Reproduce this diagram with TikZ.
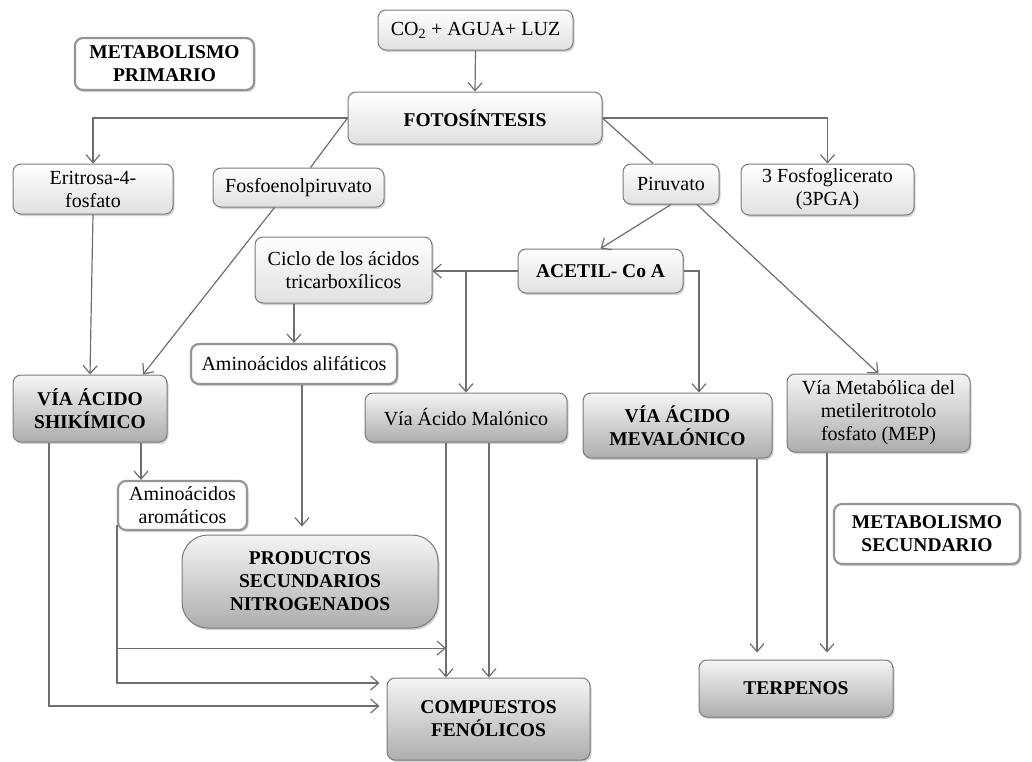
\documentclass[tikz,border=0pt]{standalone}
\usepackage{fontspec}
\setmainfont{Liberation Serif}
\usetikzlibrary{arrows.meta,shadows}
\definecolor{edge}{HTML}{7A7A7A}
\definecolor{wire}{HTML}{6E6E6E}
\tikzset{
    box/.style={draw=edge, line width=1pt, rounded corners=8pt, inner sep=0pt, align=center,
        font=\fontsize{20}{23}\selectfont, drop shadow={shadow xshift=1.5pt, shadow yshift=-2pt, opacity=0.35}},
    bold/.style={font=\fontsize{19.5}{23}\selectfont\bfseries},
    lightbox/.style={box, top color=white, bottom color=black!12},
    darkbox/.style={box, top color=black!4, bottom color=black!32},
    whitebox/.style={box, fill=white, draw=edge!80, line width=2.2pt, drop shadow={opacity=0}},
    arr/.style={draw=wire, line width=1.2pt, -{Straight Barb[length=8pt,width=14pt,line width=1.2pt]}},
    ln/.style={draw=wire, line width=1.2pt}
}
\begin{document}
\begin{tikzpicture}[x=1pt, y=-1pt]
    \useasboundingbox (0,0) rectangle (1032,761);
    % nodes
    \node[lightbox, minimum width=195, minimum height=40] (co2) at (475.5,30) {CO\textsubscript{2} + AGUA+ LUZ};
    \node[whitebox, bold, minimum width=179, minimum height=52] (metp) at (164.5,64) {METABOLISMO\\PRIMARIO};
    \node[lightbox, bold, minimum width=254, minimum height=52] (foto) at (475,118) {FOTOSÍNTESIS};
    \node[lightbox, minimum width=160, minimum height=50] (erit) at (93,189) {Eritrosa-4-\\fosfato};
    \node[lightbox, minimum width=171, minimum height=39] (fosfo) at (298.5,187.5) {Fosfoenolpiruvato};
    \node[lightbox, minimum width=96, minimum height=40] (piru) at (671,184) {Piruvato};
    \node[lightbox, minimum width=173, minimum height=51] (pga) at (827.5,189.5) {3 Fosfoglicerato\\(3PGA)};
    \node[lightbox, minimum width=177, minimum height=66] (ciclo) at (343.5,270) {Ciclo de los ácidos\\tricarboxílicos};
    \node[lightbox, bold, minimum width=165, minimum height=44] (acetil) at (600.5,271) {ACETIL- Co A};
    \node[whitebox, minimum width=206, minimum height=40] (alif) at (294,364) {Aminoácidos alifáticos};
    \node[darkbox, bold, minimum width=154, minimum height=67] (shik) at (90,408.5) {VÍA ÁCIDO\\SHIKÍMICO};
    \node[darkbox, minimum width=202, minimum height=49] (malo) at (466,417.5) {Vía Ácido Malónico};
    \node[darkbox, bold, minimum width=189, minimum height=65] (meva) at (677.5,425.5) {VÍA ÁCIDO\\MEVALÓNICO};
    \node[darkbox, minimum width=183, minimum height=78] (mep) at (878.5,413) {Vía Metabólica del\\metileritrotolo\\fosfato (MEP)};
    \node[whitebox, bold, minimum width=186, minimum height=60] (mets) at (927,534) {METABOLISMO\\SECUNDARIO};
    \node[whitebox, minimum width=129, minimum height=49] (arom) at (182.5,505.5) {Aminoácidos\\aromáticos};
    \node[darkbox, bold, rounded corners=26pt, minimum width=256, minimum height=93] (prod) at (310,581.5) {PRODUCTOS\\SECUNDARIOS\\NITROGENADOS};
    \node[darkbox, bold, minimum width=203, minimum height=82] (comp) at (488.5,719) {COMPUESTOS\\FENÓLICOS};
    \node[darkbox, bold, minimum width=194, minimum height=57] (terp) at (796,688.5) {TERPENOS};
    % connectors
    \foreach \a/\b in {co2/foto, erit/shik, piru/acetil}
        \draw[arr] (\a.south) -- (\b.north);
    \draw[arr] (foto.west) -| (erit.north);
    \draw[arr] (foto.east) -| (pga.north);
    \draw[ln] (foto.west) -- ([xshift=12pt]fosfo.north);
    \draw[ln] (foto.east) -- ([xshift=-18pt]piru.north);
    \draw[arr] ([xshift=-24pt]fosfo.south) -- ([xshift=53pt]shik.north);
    \draw[arr] ([xshift=26pt]piru.south) -- (mep.north);
    \draw[arr] (acetil.west) -- (acetil.west -| ciclo.east);
    \coordinate (split) at (malo.north |- acetil.west);
    \draw[arr] (split) -- (malo.north);
    \draw[arr] (acetil.east) -| ([xshift=21.5pt]meva.north);
    \draw[arr] (alif.north |- ciclo.south) -- (alif.north);
    \draw[arr, shorten >=8pt] ([xshift=8pt]alif.south) -- ([xshift=8pt]alif.south |- prod.north);
    \draw[arr] ([xshift=51pt]shik.south) -- ([xshift=51pt]shik.south |- arom.north);
    % lines into the phenolic compounds
    \coordinate (arombase) at ([yshift=6pt]arom.south west);
    \coordinate (malol) at ([xshift=-20pt]malo.south);
    \coordinate (malor) at ([xshift=23pt]malo.south);
    \draw[arr, shorten >=7pt] ([xshift=-41pt]shik.south) |- ([yshift=13pt]comp.west);
    \draw[arr, shorten >=7pt] (arombase) |- ([yshift=36pt]comp.west);
    \draw[arr] ([yshift=-123pt]arombase) -- ([yshift=-123pt]arombase -| malol);
    \foreach \c in {malol, malor}
        \draw[arr] (\c) -- (\c |- comp.north);
    \draw[arr, shorten >=7pt] ([xshift=79.5pt]meva.south) -- ([xshift=79.5pt]meva.south |- terp.north);
    \draw[arr, shorten >=7pt] ([xshift=-51.5pt]mep.south) -- ([xshift=-51.5pt]mep.south |- terp.north);
\end{tikzpicture}
\end{document}
